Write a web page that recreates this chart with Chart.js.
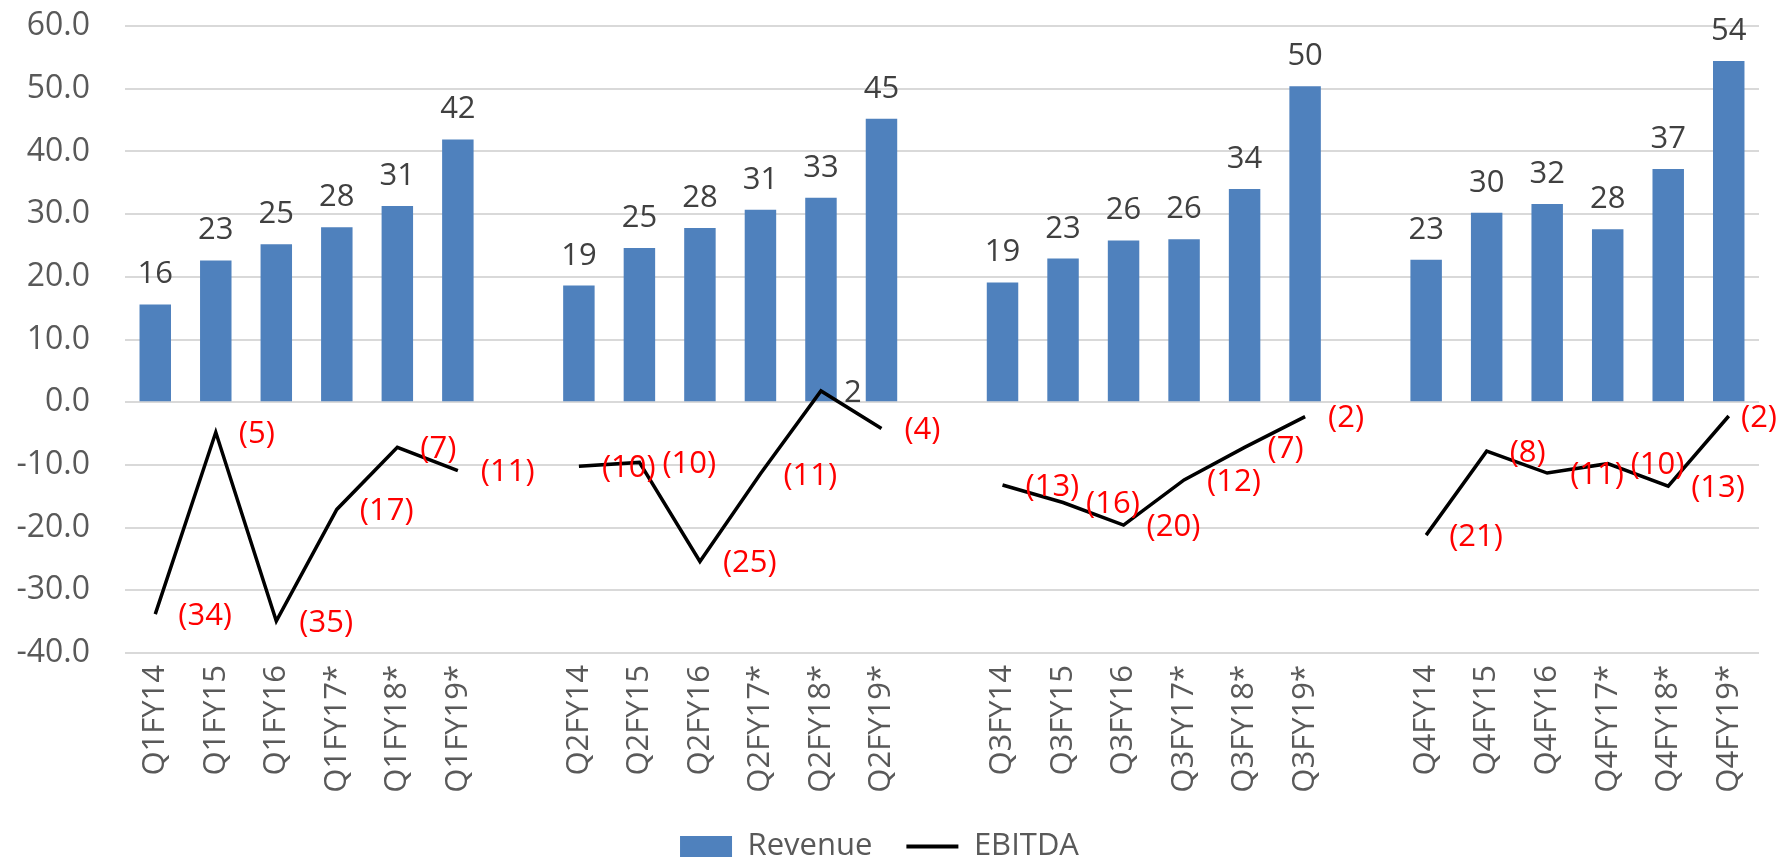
<!DOCTYPE html>
<html>
<head>
<meta charset="utf-8">
<script src="https://cdn.jsdelivr.net/npm/chart.js@4"></script>
<style>
  html, body { margin: 0; padding: 0; background: #ffffff; }
  #wrap { width: 1781px; height: 861px; }
</style>
</head>
<body>
<div id="wrap"><canvas id="c" width="1781" height="861"></canvas></div>
<script>
const categories = [
  'Q1FY14','Q1FY15','Q1FY16','Q1FY17*','Q1FY18*','Q1FY19*','',
  'Q2FY14','Q2FY15','Q2FY16','Q2FY17*','Q2FY18*','Q2FY19*','',
  'Q3FY14','Q3FY15','Q3FY16','Q3FY17*','Q3FY18*','Q3FY19*','',
  'Q4FY14','Q4FY15','Q4FY16','Q4FY17*','Q4FY18*','Q4FY19*'
];
const revenue = [
  15.6, 22.6, 25.2, 27.9, 31.3, 41.9, null,
  18.6, 24.6, 27.8, 30.7, 32.6, 45.2, null,
  19.1, 22.9, 25.8, 26.0, 34.0, 50.4, null,
  22.7, 30.2, 31.6, 27.6, 37.2, 54.4
];
const ebitda = [
  -33.8, -4.8, -34.9, -17.1, -7.2, -10.9, null,
  -10.2, -9.6, -25.4, -11.4, 1.8, -4.2, null,
  -13.2, -16.0, -19.6, -12.4, -7.2, -2.3, null,
  -21.2, -7.8, -11.3, -9.8, -13.4, -2.2
];
const yTicks = [60, 50, 40, 30, 20, 10, 0, -10, -20, -30, -40];

const FONT = '"Open Sans", "Liberation Sans", sans-serif';

const labelPlugin = {
  id: 'valueLabels',
  afterDatasetsDraw(chart) {
    const ctx = chart.ctx;
    ctx.save();
    ctx.font = '31px ' + FONT;
    const bars = chart.getDatasetMeta(0).data;
    bars.forEach((el, i) => {
      const v = revenue[i];
      if (v === null) return;
      ctx.fillStyle = '#404040';
      ctx.textAlign = 'center';
      ctx.textBaseline = 'alphabetic';
      ctx.fillText(String(Math.round(v)), el.x, el.y - 21);
    });
    const pts = chart.getDatasetMeta(1).data;
    pts.forEach((el, i) => {
      const v = ebitda[i];
      if (v === null) return;
      const txt = v < 0 ? '(' + Math.round(Math.abs(v)) + ')' : String(Math.round(v));
      ctx.fillStyle = v < 0 ? '#ff0000' : '#404040';
      ctx.textAlign = 'left';
      ctx.textBaseline = 'middle';
      const w = ctx.measureText(txt).width;
      const x = Math.min(el.x + 23, chart.width - 4 - w);
      ctx.fillText(txt, x, el.y + 2);
    });
    ctx.restore();
  }
};

new Chart(document.getElementById('c'), {
  type: 'bar',
  data: {
    labels: categories,
    datasets: [
      {
        type: 'bar',
        label: 'Revenue',
        data: revenue,
        backgroundColor: '#4f81bd',
        borderWidth: 0,
        barPercentage: 0.52,
        categoryPercentage: 1.0,
        order: 2
      },
      {
        type: 'line',
        label: 'EBITDA',
        data: ebitda,
        borderColor: '#000000',
        backgroundColor: '#000000',
        borderWidth: 3.5,
        pointRadius: 0,
        pointHoverRadius: 0,
        tension: 0,
        spanGaps: false,
        order: 1
      }
    ]
  },
  options: {
    responsive: false,
    animation: false,
    devicePixelRatio: 1,
    layout: { padding: { top: 26, right: 22, left: 0, bottom: -11 } },
    plugins: {
      tooltip: { enabled: false },
      legend: {
        position: 'bottom',
        labels: {
          font: { family: FONT, size: 31 },
          color: '#595959',
          usePointStyle: true,
          pointStyleWidth: 52,
          boxHeight: 21,
          padding: 34,
          generateLabels() {
            return [
              { text: 'Revenue', fillStyle: '#4f81bd', strokeStyle: '#4f81bd', lineWidth: 0, pointStyle: 'rect', fontColor: '#595959', datasetIndex: 0, hidden: false },
              { text: 'EBITDA', fillStyle: '#000000', strokeStyle: '#000000', lineWidth: 4, pointStyle: 'line', fontColor: '#595959', datasetIndex: 1, hidden: false }
            ];
          }
        }
      }
    },
    scales: {
      x: {
        grid: { display: false, drawTicks: false },
        border: { display: false },
        ticks: {
          color: '#595959',
          font: { family: FONT, size: 31 },
          minRotation: 90,
          maxRotation: 90,
          autoSkip: false,
          padding: 12
        },
        afterFit(s) { s.height = 144; }
      },
      y: {
        min: -40,
        max: 60,
        grid: { color: '#d9d9d9', lineWidth: 2, drawTicks: true, tickLength: 33, tickColor: 'rgba(0,0,0,0)' },
        border: { display: false },
        afterBuildTicks(s) { s.ticks = yTicks.map(v => ({ value: v })); },
        ticks: {
          color: '#595959',
          font: { family: FONT, size: 32 },
          padding: 2,
          callback: v => Number(v).toFixed(1)
        },
        afterFit(s) { s.width = 125; }
      }
    }
  },
  plugins: [labelPlugin]
});
</script>
</body>
</html>
